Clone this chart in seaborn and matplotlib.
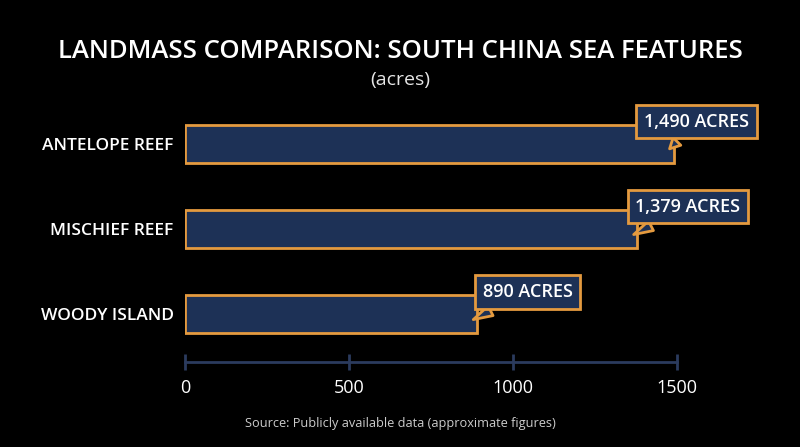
import matplotlib
matplotlib.use('Agg')
import matplotlib.pyplot as plt
import seaborn as sns
import pandas as pd

# Datos del gráfico
features = ['ANTELOPE REEF', 'MISCHIEF REEF', 'WOODY ISLAND']
acres = [1490, 1379, 890]
callouts = ['1,490 ACRES', '1,379 ACRES', '890 ACRES']
x_ticks = [0, 500, 1000, 1500]

df = pd.DataFrame({'Feature': features, 'Acres': acres})

navy = '#1d3156'
orange = '#e49a3f'
axis_col = '#2b3b5e'

sns.set_style('dark')
plt.rcParams['font.family'] = ['Open Sans', 'DejaVu Sans']

fig = plt.figure(figsize=(8, 4.47), dpi=100, facecolor='black')
ax = fig.add_axes([0.231, 0.190, 0.615, 0.602])
ax.set_facecolor('black')

sns.barplot(data=df, x='Acres', y='Feature', orient='h', ax=ax,
            color=navy, edgecolor=orange, linewidth=2, width=0.45, saturation=1)

ax.set_xlim(0, 1500)
ax.set_ylim(2.565, -0.6)
ax.set_xticks(x_ticks)
ax.set_xticklabels([str(t) for t in x_ticks])
ax.set_xlabel('')
ax.set_ylabel('')
ax.grid(False)
for s in ['top', 'right', 'left']:
    ax.spines[s].set_visible(False)
ax.spines['bottom'].set_color(axis_col)
ax.spines['bottom'].set_linewidth(2)
ax.tick_params(axis='x', bottom=True, direction='inout', length=12, width=2,
               color=axis_col, labelcolor='white', labelsize=13, pad=6)
ax.tick_params(axis='y', left=False, length=0, labelcolor='white', pad=8)
for lab in ax.get_yticklabels():
    lab.set_fontsize(12.5)
    lab.set_fontweight('semibold')

# Globos con el valor
for i, (v, txt) in enumerate(zip(acres, callouts)):
    tx = min(v + 155, 1560)
    ax.annotate(txt, xy=(v - 18, i + 0.08), xytext=(tx, i - 0.26),
                ha='center', va='center', color='white', fontsize=13,
                fontweight='semibold',
                bbox=dict(boxstyle='square,pad=0.42', fc=navy, ec=orange, lw=2),
                arrowprops=dict(arrowstyle='wedge,tail_width=0.6,shrink_factor=0.5',
                                fc=navy, ec=orange, lw=2),
                annotation_clip=False, zorder=5)

fig.text(0.5, 0.885, 'LANDMASS COMPARISON: SOUTH CHINA SEA FEATURES',
         ha='center', va='center', color='white', fontsize=18.5, fontweight='semibold')
fig.text(0.5, 0.82, '(acres)', ha='center', va='center', color='#e6e6e6', fontsize=14)
fig.text(0.5, 0.053, 'Source: Publicly available data (approximate figures)',
         ha='center', va='center', color='#cccccc', fontsize=9.2)

fig.savefig('out.png', dpi=100, facecolor='black')
